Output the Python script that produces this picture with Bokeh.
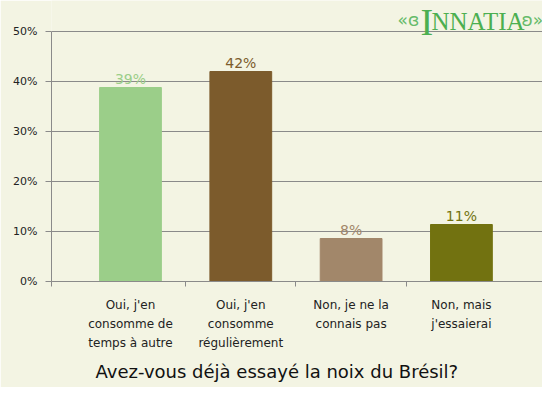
from bokeh.plotting import figure
from bokeh.models import Range1d, FixedTicker, Label, Title, ColumnDataSource, CustomJSTickFormatter
from bokeh.core.properties import value
from bokeh.embed import file_html
from bokeh.resources import INLINE

categories = ["Oui, j'en\nconsomme de\ntemps à autre", "Oui, j'en\nconsomme\nrégulièrement",
              "Non, je ne la\nconnais pas", "Non, mais\nj'essaierai"]
values = [38.8, 42.0, 8.6, 11.4]
value_labels = ["39%", "42%", "8%", "11%"]
colors = ["#9bce89", "#7c5b2c", "#a2876a", "#727210"]
y_ticks = [0, 10, 20, 30, 40, 50]
title_text = "Avez-vous déjà essayé la noix du Brésil?"

BG = "#f3f4e3"
GRID = "#8a8a8a"
LOGO = "#4caf50"

xs = list(range(len(categories)))
src = ColumnDataSource(dict(x=xs, top=values, color=colors, lab=value_labels))

# frame spans from the canvas top to the x axis; the axis itself stops at 50%
p = figure(width=542, height=387, output_backend="svg", toolbar_location=None,
           x_range=Range1d(-0.716, 3.735), y_range=Range1d(0, 50 * 281 / 250),
           min_border_left=51, min_border_right=0, min_border_top=0, min_border_bottom=0)
p.background_fill_color = BG
p.border_fill_color = BG
p.outline_line_color = None

p.vbar(x="x", top="top", width=0.56, bottom=0, color="color", source=src)
p.text(x="x", y="top", text="lab", text_color="color", source=src,
       text_align="center", text_baseline="bottom", y_offset=-1,
       text_font_size="14px", text_font=value("DejaVu Sans"))

# y axis
p.yaxis.ticker = FixedTicker(ticks=y_ticks)
p.yaxis.bounds = (0, 50)
p.yaxis.formatter = CustomJSTickFormatter(code="return tick.toFixed(0) + '%';")
p.yaxis.axis_line_color = GRID
p.yaxis.major_tick_line_color = GRID
p.yaxis.major_tick_out = 6
p.yaxis.major_tick_in = 0
p.yaxis.minor_tick_line_color = None
p.yaxis.major_label_text_font = "DejaVu Sans"
p.yaxis.major_label_text_font_size = "11px"
p.yaxis.major_label_text_color = "#222222"
p.yaxis.major_label_standoff = 8

p.ygrid.grid_line_color = GRID
p.ygrid.grid_line_width = 1
p.xgrid.grid_line_color = None

# x axis
p.xaxis.ticker = FixedTicker(ticks=xs, minor_ticks=[-0.712, 0.5, 1.5, 2.5])
p.xaxis.major_label_overrides = {i: c for i, c in enumerate(categories)}
p.xaxis.axis_line_color = GRID
p.xaxis.major_tick_line_color = None
p.xaxis.major_tick_out = 0
p.xaxis.major_tick_in = 0
p.xaxis.minor_tick_line_color = GRID
p.xaxis.minor_tick_out = 5
p.xaxis.minor_tick_in = 0
p.xaxis.major_label_text_font = "DejaVu Sans"
p.xaxis.major_label_text_font_size = "12px"
p.xaxis.major_label_text_color = "#222222"
p.xaxis.major_label_text_line_height = 1.38
p.xaxis.major_label_standoff = 11

t = Title(text=title_text, align="left", offset=44, text_font="DejaVu Sans",
          text_font_size="18px", text_font_style="normal", text_color="#111111",
          standoff=11)
p.add_layout(t, "below")

# logo (screen units relative to the plot frame)
BASE = 260
p.add_layout(Label(x=420 - 51, y=BASE, x_units="screen", y_units="screen", text="I",
                   text_font="Liberation Serif", text_font_size="38px",
                   text_baseline="alphabetic", text_color=LOGO))
p.add_layout(Label(x=431 - 51, y=BASE, x_units="screen", y_units="screen", text="NNATIA",
                   text_font="Liberation Serif", text_font_size="25px",
                   text_baseline="alphabetic", text_color=LOGO))
p.add_layout(Label(x=397 - 51, y=BASE + 2, x_units="screen", y_units="screen", text="«ɞ",
                   text_font="DejaVu Sans", text_font_size="17px",
                   text_baseline="alphabetic", text_color="#66bb6a"))
p.add_layout(Label(x=521 - 51, y=BASE + 2, x_units="screen", y_units="screen", text="ʚ»",
                   text_font="DejaVu Sans", text_font_size="17px",
                   text_baseline="alphabetic", text_color="#66bb6a"))

open("out.html", "w").write(file_html(p, INLINE))
